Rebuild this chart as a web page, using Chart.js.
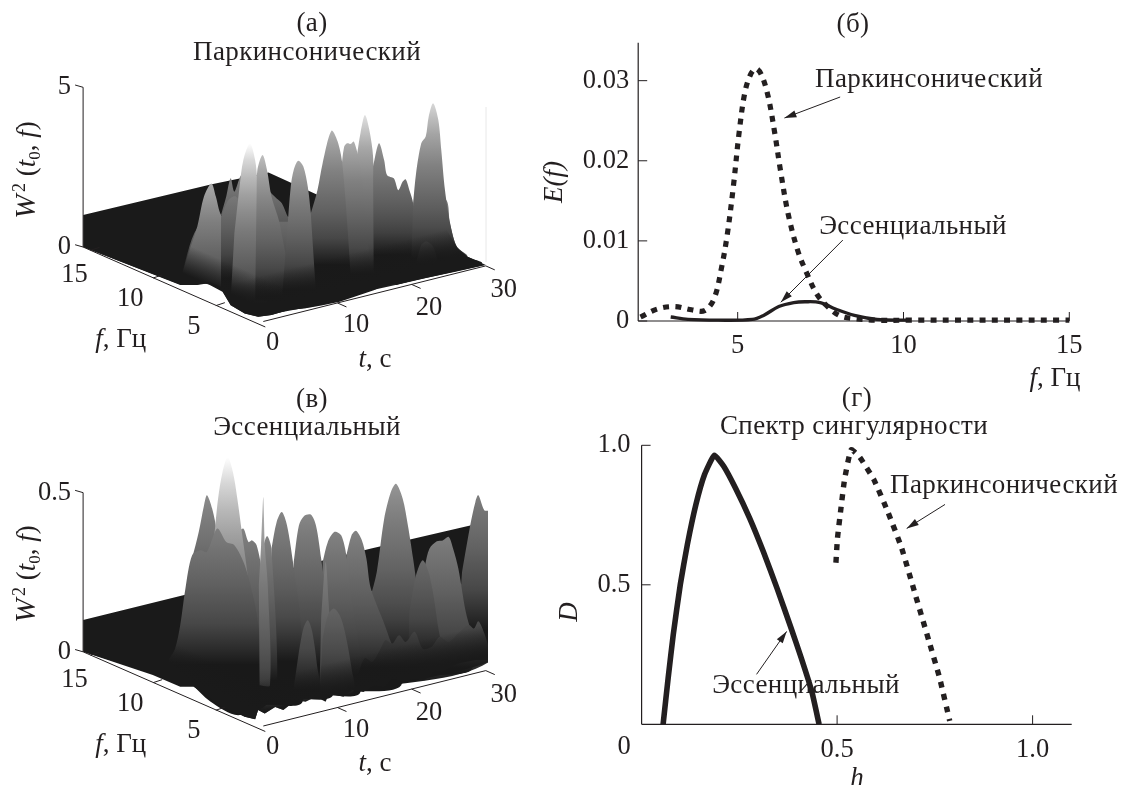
<!DOCTYPE html>
<html><head><meta charset="utf-8">
<script src="https://cdn.jsdelivr.net/npm/chart.js@4/dist/chart.umd.min.js"></script>
<style>html,body{margin:0;background:#fff;width:1123px;height:785px;overflow:hidden}canvas{position:absolute}</style>
</head><body>
<canvas id="c1"></canvas><canvas id="c2"></canvas><canvas id="c3"></canvas><canvas id="c4"></canvas>
<script>
// ---------- panel (б): E(f) ----------
const energyParkF=[2.07,2.58,3.09,3.61,4.0,4.29,4.52,4.69,4.87,5.04,5.21,5.38,5.55,5.72,5.92,6.12,6.29,6.52,6.81,7.09,7.38,7.66,8.06,8.52,9.2,10.12,15];
const energyParkE=[.0005,.0015,.0018,.0014,.0013,.0028,.0068,.0109,.0168,.0234,.0284,.0307,.0315,.0307,.028,.0234,.0188,.0134,.0088,.0059,.0034,.002,.0007,.0003,.0001,.0001,.0001];
const energyEssF=[2.98,3.5,4.41,5.44,5.78,6.24,6.69,7.03,7.49,7.95,8.52,9.2,10.12];
const energyEssE=[.0005,.0002,.0001,.0002,.0007,.0018,.0023,.0024,.0023,.0015,.0007,.0002,.0001];
const energyXTicks=[5,10,15];
const energyYTicks=[0,.01,.02,.03];
const energyYLabels=['0','0.01','0.02','0.03'];
// ---------- panel (г): D(h) ----------
const specEssH=[.055,.068,.081,.099,.117,.139,.161,.186,.21,.24,.276,.311,.346,.382,.408,.435,.454];
const specEssD=[0,.167,.322,.501,.644,.788,.895,.964,.925,.847,.74,.62,.489,.346,.239,.119,0];
const specParkH=[.497,.501,.51,.519,.536,.558,.594,.629,.665,.7,.735,.762,.788];
const specParkD=[.579,.668,.776,.877,.984,.957,.877,.764,.632,.465,.298,.167,.012];
const specXTicks=[.5,1];
const specYTicks=[.5,1];
// ---------- 3-D panels: t, f axes ----------
const tTicks=[0,10,20,30];
const fTicks=[5,10,15];
// ---------- panel (а): outlines in view units (horizontal t-span, vertical W² span) ----------
const backA=[[-24.3,0],[-24.3,1],[-7.1,1.96],[.7,2.33],[7.8,1.58],[14.9,.43],[25.9,-.35],[29.8,-.56],[17.9,-1.17],[17.4,-1.07],[14.9,-1.3],[8,-1.8],[1.1,-2.1],[-.7,-2.15],[-2.5,-2.05],[-4.4,-1.8],[-5.5,-1.38],[-7.6,-1.12],[-8.9,-1.17],[-11.2,-1.17]];
const floorA=[[-24.3,0],[0,.7],[24.3,.7],[26.1,.01],[27.5,-.3],[29.5,-.51],[30,-.56],[25.9,-.77],[21.8,-.98],[17.9,-1.19],[17.4,-1.09],[14.9,-1.35],[10.3,-1.71],[8,-1.82],[5.7,-1.92],[3.4,-1.97],[1.1,-2.13],[-.7,-2.18],[-2.5,-2.08],[-4.4,-1.82],[-5.5,-1.4],[-7.6,-1.14],[-8.9,-1.19],[-11.2,-1.19]];
const ridgesA=[
 [[-11.2,-1.03],[-8.9,.6],[-5.7,.95],[3.4,.95],[6.4,1],[11,1.2],[20,1.2],[24.5,1.5],[25.2,.7],[26.1,0],[27.5,-.3],[24,-.8],[10,-1.5],[-5,-1.25]],
 [[-5.7,1],[-5,1.58],[-4.4,2.15],[-3.9,1.73],[-2.9,2.25],[-1.4,1.47],[-.7,2.2],[.7,1.78],[1.8,1.52],[2.5,1.37],[3.4,.9],[3.9,.8],[-3.4,.8]],
 [[-11.2,-1.03],[-10.1,-.2],[-8.9,.64],[-8,1.58],[-7,1.99],[-6.4,1.58],[-5.7,1],[-3.4,.22],[-.7,-.82],[-.7,-1.66],[-7.1,-1.1]],
 [[-5.7,.95],[-4.7,1.47],[-3.7,1.58],[-2.5,1.05],[-1.4,-.2],[-.7,-1.66],[-5.7,-1.3]],
 [[-3.9,.43],[-3.2,1.89],[-2.7,2.72],[-1.8,3.25],[-1.1,2.72],[-.8,2.1],[0,.43],[.7,-1.66],[-4.4,-1.66]],
 [[-.9,1.68],[-.8,2.41],[-.1,2.88],[.5,2.41],[1.1,1.58],[2.3,.64],[3.4,-1.66],[-1.1,-1.66]],
 [[3.2,.43],[3.7,1.89],[4.1,2.41],[4.7,2.7],[5.4,2.52],[6,1.89],[6.4,1.1],[7.3,-.62],[7.6,-1.66],[2.5,-1.66]],
 [[12.6,2.83],[13.1,3.56],[13.7,4.13],[14.3,3.66],[14.8,2.83],[15.3,-.62],[15.3,-1.24],[12.6,-1.45]],
 [[14.8,2.52],[15.6,3.25],[16.3,2.72],[16.7,2.25],[17.6,2.15],[18.2,1.78],[18.8,2.05],[19.2,2.12],[19.7,1.78],[20.2,1.37],[20.8,-.82],[14.9,-1.3]],
 [[10.5,2.41],[10.9,3.14],[11.3,3.25],[11.8,3.23],[12.2,3.3],[12.8,2.83],[13.3,2.2],[14.4,-.62],[14.4,-1.24],[10.3,-1.45]],
 [[6.4,1.05],[7.3,1.78],[8,2.62],[9.2,3.64],[10.1,3.25],[10.7,2.52],[11.7,-.62],[11.7,-1.45],[7.1,-1.45]],
 [[20.2,1.37],[20.6,2.31],[21.3,3.25],[21.9,3.46],[22.3,4.08],[22.9,4.5],[23.6,3.98],[24,3.04],[24.5,1.78],[25.2,.74],[26.1,.01],[27.5,-.3],[29.5,-.51],[24,-.8],[19.9,-1]],
 [[20.6,-.51],[21.3,.06],[22,.17],[22.9,.01],[23.6,-.51]]
];
const levelsA=[-1.3,-.6,-2.06,-1,-2.15,-1.55,-1.35,-.87,-.25,-.86,-.56,-.36,-.53];
// ---------- panel (в) ----------
const backB=[[-24.3,0],[-24.3,.1],[-10.8,.178],[14.4,.324],[27.9,.397],[30.5,.418],[30.5,0],[5.7,-.146],[-12.6,-.084]];
const floorB=[[-24.3,0],[0,.1],[30.3,.1],[30.3,-.026],[28.6,-.026],[26.3,-.037],[25,-.052],[24,-.063],[23.1,-.058],[21.8,-.089],[20.4,-.084],[19,-.094],[17.4,-.084],[16.3,-.11],[14.9,-.105],[13.5,-.126],[12,-.12],[10.8,-.141],[8.9,-.131],[8.4,-.157],[7.1,-.141],[5.7,-.157],[4.4,-.152],[2.7,-.183],[1.6,-.173],[.2,-.194],[-.7,-.183],[-1.1,-.212],[-2.5,-.204],[-4.4,-.183],[-6.2,-.162],[-8,-.131],[-9.4,-.11],[-11.2,-.11],[-14.9,-.073]];
const ridgesB=[
 [[-10,.15],[-3,.15],[8,.15],[14.4,.19],[22,.2],[30.5,.2],[30.5,-.03],[12,-.12],[-3,-.17],[-9.6,-.09]],
 [[14.4,.167],[15.3,.251],[16.3,.418],[17.2,.502],[17.9,.528],[18.8,.481],[19.5,.397],[20.2,.293],[21.3,.105],[22.2,-.063],[14.4,-.084]],
 [[26.8,.251],[27.9,.397],[28.6,.471],[29,.492],[29.8,.445],[30.5,.44],[30.5,0],[25.9,-.042]],
 [[20.6,.167],[21.8,.272],[22.4,.324],[23.4,.347],[24.2,.35],[25,.361],[25.6,.324],[26.3,.262],[27.3,.126],[28.6,0],[27.7,-.063],[20.4,-.073]],
 [[19.7,.126],[20.6,.241],[21.5,.288],[22.4,.241],[23.4,.105],[24,-.063],[19.5,-.084]],
 [[11.2,.303],[11.9,.366],[12.5,.38],[13.3,.35],[13.9,.293],[14.5,.199],[16.7,.063],[18.6,-.105],[11.2,-.126]],
 [[8,.282],[8.7,.345],[9.6,.377],[10.5,.366],[11.2,.303],[11.9,.167],[13.1,-.126],[8,-.136]],
 [[4.1,.282],[4.8,.397],[5.5,.427],[6.4,.431],[7.1,.397],[7.8,.293],[8.7,.126],[9.4,-.136],[3.9,-.146]],
 [[1.1,.324],[1.8,.408],[2.5,.439],[3.2,.397],[4,.282],[5,.105],[5.3,-.157],[.7,-.167]],
 [[-.2,.314],[.5,.364],[1.1,.324],[1.8,-.146],[-.2,-.157]],
 [[-3.4,.377],[-2.7,.387],[-2,.345],[-1.5,.35],[-.9,.335],[-.2,.251],[.7,-.105],[-3.4,-.105]],
 [[-9.6,.293],[-8.7,.377],[-8,.46],[-7.6,.492],[-6.9,.45],[-6.2,.366],[-5.3,.105],[-5.3,-.105],[-9.6,-.052]],
 [[-6.6,.366],[-6.1,.481],[-5.5,.565],[-4.8,.612],[-4.1,.565],[-3.5,.481],[-2.9,.377],[-2,.209],[-1.6,-.105],[-6.2,-.105]],
 [[-12.8,-.026],[-11.9,.01],[-11.2,.084],[-10.5,.199],[-9.6,.303],[-8.5,.319],[-7.6,.314],[-6.2,.387],[-5,.345],[-3.9,.335],[-2.5,.272],[-1.1,.146],[-.2,0],[.7,-.157],[-3.4,-.199],[-7.1,-.157],[-9.8,-.099]],
 [[-.6,.209],[-.3,.335],[0,.486],[.2,.335],[.6,.209],[.9,-.105],[-.5,-.105]],
 [[7.8,.105],[8.4,.282],[8.8,.157],[9.4,-.105],[7.6,-.105]],
 [[4.8,0],[5.4,.073],[6,.099],[6.6,.063],[7.3,-.052],[7.6,-.136],[3.9,-.146]],
 [[8,.042],[8.7,.115],[9.5,.136],[10.3,.115],[11,.063],[11.9,-.052],[12.1,-.126],[7.6,-.136]],
 [[12.6,-.084],[13.7,-.019],[14.7,-.031],[15.6,0],[16.5,.037],[17.4,.026],[18.3,.052],[19.2,.031],[20.4,.063],[21.5,.01],[22.7,.016],[23.8,.047],[25,.031],[26.3,.058],[27.7,.084],[28.4,.073],[29,.096],[29.8,.058],[30.5,0],[30.5,-.031],[21.8,-.084],[12.6,-.126]]
];
const levelsB=[-.1,-.005,.066,-.065,-.02,-.07,-.073,-.04,-.03,-.09,-.063,0,-.208,-.04,-.19,-.17,-.12,-.14,-.05];

// ---------- helpers ----------
const INK='#231f20', SERIF='"Liberation Serif"', FS=27, TS=26.5, TRACK='.4px';
const GRAY_H=[0,.15,.3,.55,.75,.9,1], GRAY_V=[25,70,95,130,170,215,255];
Chart.defaults.font.family=SERIF; Chart.defaults.color=INK; Chart.defaults.animation=false;
function place(id,p){const c=document.getElementById(id);c.style.left=p.x+'px';c.style.top=p.y+'px';c.style.width=p.w+'px';c.style.height=p.h+'px';c.width=p.w;c.height=p.h;return c;}
function text(c,p,s,x,y,o={}){c.save();c.font=`${o.size||FS}px ${SERIF}`;c.letterSpacing=o.track||'0px';c.fillStyle=INK;c.textAlign='center';c.textBaseline='middle';c.translate(x-p.x,y-p.y);c.fillText(s,0,0);c.restore();}
const label=(c,p,s,x,y)=>text(c,p,s,x,y,{track:TRACK});
const num=(c,p,s,x,y)=>text(c,p,s,x,y,{size:TS});
function rich(c,p,spans,x,y,rot){c.save();c.fillStyle=INK;c.textBaseline='alphabetic';c.translate(x-p.x,y-p.y);if(rot)c.rotate(rot);
 const fonts=spans.map(s=>`${s[1]==='i'?'italic ':''}${s[2]||FS}px ${SERIF}`);let w=0;spans.forEach((s,i)=>{c.font=fonts[i];w+=c.measureText(s[0]).width;});
 let cx=-w/2;spans.forEach((s,i)=>{c.font=fonts[i];c.fillText(s[0],cx,9+(s[3]||0));cx+=c.measureText(s[0]).width;});c.restore();}
function seg(c,x1,y1,x2,y2,lw=1){c.save();c.strokeStyle=INK;c.lineWidth=lw;c.beginPath();c.moveTo(x1,y1);c.lineTo(x2,y2);c.stroke();c.restore();}
function arrow(ch,a,b,d,e){const x=ch.scales.x,y=ch.scales.y,c=ch.ctx;const x1=x.getPixelForValue(a),y1=y.getPixelForValue(b),x2=x.getPixelForValue(d),y2=y.getPixelForValue(e);
 seg(c,x1,y1,x2,y2);const t=Math.atan2(y2-y1,x2-x1),L=12,W=3.6;c.save();c.fillStyle=INK;c.translate(x2,y2);c.rotate(t);c.beginPath();c.moveTo(0,0);c.lineTo(-L,W);c.lineTo(-L,-W);c.closePath();c.fill();c.restore();}
function scale(min,max,list,labels,padd,fit){return{type:'linear',min,max,afterBuildTicks:s=>{s.ticks=list.map(v=>({value:v}));},afterFit:fit,
 grid:{display:false,drawTicks:false},border:{display:false},ticks:{callback:(v,i)=>labels?labels[i]:String(v),padding:padd,font:{size:TS,family:SERIF},color:INK,maxRotation:0,autoSkip:false}};}
const xy=(xs,ys)=>xs.map((x,i)=>({x,y:ys[i]}));
const pts=a=>a.map(q=>({x:q[0],y:q[1]}));
const base={responsive:false,animation:false,events:[],plugins:{legend:{display:false},tooltip:{enabled:false},title:{display:false}}};

// ---------- surface panels ----------
function grayAt(h){h=Math.min(1,Math.max(0,h));for(let i=1;i<GRAY_H.length;i++){if(h<=GRAY_H[i]){const s=(h-GRAY_H[i-1])/(GRAY_H[i]-GRAY_H[i-1]);return Math.round(GRAY_V[i-1]+s*(GRAY_V[i]-GRAY_V[i-1]));}}return 255;}
function ridgeFill(top,level,hmax){return ctx=>{const ch=ctx.chart;if(!ch.chartArea)return '#333';const y=ch.scales.y;
  const g=ch.ctx.createLinearGradient(0,y.getPixelForValue(level),0,y.getPixelForValue(top));
  for(let i=0;i<=10;i++){const s=i/10,v=grayAt((top-level)*s/hmax);g.addColorStop(s,`rgb(${v},${v},${v})`);}return g;};}
function floorFill(k,nx,ny,d1,d2){return ctx=>{const ch=ctx.chart;if(!ch.chartArea)return '#1a1a1a';const cx=ch.scales.x.getPixelForValue(0),cy=ch.scales.y.getPixelForValue(-2.33*k);
  const g=ch.ctx.createLinearGradient(cx-nx*d1,cy-ny*d1,cx-nx*d2,cy-ny*d2);g.addColorStop(0,'rgba(26,26,26,0)');g.addColorStop(1,'rgba(26,26,26,1)');return g;};}
const F_OFF=[[-22,21],[-23,21],[-16,24.5]], T_OFF=[[9.4,21.4],[18.5,22.5],[17.5,23.5],[18,24]];
function surface(id,p,rect,yMin,yMax,back,floor,ridges,levels,hmax,zTicks,zLabels,k,texts){
 const ds=[{data:pts(back),backgroundColor:'#1a1a1a',fill:'shape',borderWidth:0,borderColor:'transparent',pointRadius:0,tension:0}];
 ridges.forEach((r,i)=>{const top=Math.max(...r.map(q=>q[1]));ds.push({data:pts(r),backgroundColor:ridgeFill(top,levels[i],hmax),fill:'shape',borderWidth:0,borderColor:'transparent',pointRadius:0,tension:.3});});
 ds.push({data:pts(floor),backgroundColor:floorFill(k,.242,.97,45,14),fill:'shape',borderWidth:0,borderColor:'transparent',pointRadius:0,tension:0});
 ds.push({data:pts(floor),backgroundColor:floorFill(k,-.4,.916,40,12),fill:'shape',borderWidth:0,borderColor:'transparent',pointRadius:0,tension:0});
 ds.reverse();
 const decor={id:'decor',afterDraw(ch){const c=ch.ctx,X=ch.scales.x,Y=ch.scales.y,px=u=>X.getPixelForValue(u),py=z=>Y.getPixelForValue(z);
   const x0=px(-24.3);seg(c,x0,py(0),x0,py(zTicks[1]));
   zTicks.forEach(z=>seg(c,x0-8,py(z)-2.3,x0,py(z)));
   const fP=f=>{const u=2.05-1.69*f;return[px(u),py(-k*(u+24.3)*.1025)];},tP=t=>[px(t),py(k*(-2.33+.058*t))];
   const end=[px(0)+2,py(k*-2.33)+5.5];seg(c,x0,py(0),...end);seg(c,...tP(0),...tP(30));
   fTicks.forEach((f,i)=>{const[a,b]=fP(f);seg(c,a,b,a+9,b-3);num(c,p,String(f),a+p.x+F_OFF[i][0],b+p.y+F_OFF[i][1]);});
   tTicks.forEach((t,i)=>{const[a,b]=tP(t);if(t)seg(c,a,b,a+9,b+4);num(c,p,String(t),a+p.x+T_OFF[i][0],b+p.y+T_OFF[i][1]);});
   texts(c);}};
 return new Chart(place(id,p),{type:'line',data:{datasets:ds},plugins:[decor],options:{...base,layout:{padding:{left:0,right:p.x+p.w-rect.r,top:rect.t-p.y,bottom:p.y+p.h-rect.b}},
  scales:{x:{type:'linear',display:false,min:-24.3,max:30.3},y:scale(yMin,yMax,zTicks,zLabels,12,s=>{s.width=rect.l-p.x;})}}});
}
const wLabel=[['W','i',29],[' ','',10],['2','',18,-10],[' (',''],['t','i'],['0','',17,5],[', ',''],['f','i'],[')','']];
const Pa={x:0,y:0,w:540,h:385},Pb={x:0,y:385,w:540,h:400},Pc={x:540,y:0,w:583,h:392},Pd={x:540,y:385,w:583,h:400};
surface('c1',Pa,{l:83.1,r:488,t:87.3,b:326.9},-2.5,5,backA,floorA,ridgesA,levelsA,5.4,[0,5],['0','5'],1,c=>{
 c.save();c.strokeStyle='#e8e8e8';c.beginPath();c.moveTo(486,107);c.lineTo(486,262);c.stroke();c.restore();
 label(c,Pa,'(а)',312,24);label(c,Pa,'Паркинсонический',307,53);
 rich(c,Pa,wLabel,26,170,-Math.PI/2);
 rich(c,Pa,[['f','i'],[', Гц','']],120.7,338.3);rich(c,Pa,[['t','i'],[', с','']],375,358.3);
});
surface('c2',Pb,{l:83.1,r:488,t:451.9,b:731.4},-.25,.628,backB,floorB,ridgesB,levelsB,.82,[0,.5],['0','0.5'],.1,c=>{
 label(c,Pb,'(в)',312,400);label(c,Pb,'Эссенциальный',307,428);
 rich(c,Pb,wLabel,26,574,-Math.PI/2);
 rich(c,Pb,[['f','i'],[', Гц','']],120.7,743);rich(c,Pb,[['t','i'],[', с','']],375,762);
});

// ---------- line panels ----------
function inner(ch,xt,yt){const c=ch.ctx,X=ch.scales.x,Y=ch.scales.y,a=ch.chartArea;
 xt.forEach(v=>seg(c,X.getPixelForValue(v),a.bottom,X.getPixelForValue(v),a.bottom-9));
 yt.forEach(v=>seg(c,a.left,Y.getPixelForValue(v),a.left+9,Y.getPixelForValue(v)));
 seg(c,a.left,a.top,a.left,a.bottom,1.2);seg(c,a.left,a.bottom,a.right,a.bottom,1.2);}
const RC={l:638.2,r:1069.3,t:42.7,b:321},RD={l:641.6,r:1071.7,t:445.3,b:724.3};
new Chart(place('c3',Pc),{type:'line',data:{datasets:[
 {data:xy(energyParkF,energyParkE),borderColor:'#231f20',borderWidth:5.2,borderDash:[6,6.3],pointRadius:0,tension:.35,clip:false},
 {data:xy(energyEssF,energyEssE),borderColor:'#231f20',borderWidth:3.3,pointRadius:0,tension:.35,clip:false}]},
 plugins:[{id:'d',afterDraw(ch){const c=ch.ctx;inner(ch,energyXTicks,energyYTicks);
  label(c,Pc,'(б)',853,25);label(c,Pc,'Паркинсонический',929,80);label(c,Pc,'Эссенциальный',913,227);
  rich(c,Pc,[['E(f)','i']],553,182,-Math.PI/2);rich(c,Pc,[['f','i'],[', Гц','']],1055,377);
  arrow(ch,8.09,.02796,6.41,.02534);arrow(ch,8.17,.0101,6.3,.00234);}}],
 options:{...base,layout:{padding:{left:0,bottom:0,top:RC.t-Pc.y,right:Pc.x+Pc.w-RC.r}},
 scales:{x:scale(2,15,energyXTicks,null,9,s=>{s.height=Pc.y+Pc.h-RC.b;}),y:scale(0,.03474,energyYTicks,energyYLabels,9,s=>{s.width=RC.l-Pc.x;})}}});
new Chart(place('c4',Pd),{type:'line',data:{datasets:[
 {data:xy(specParkH,specParkD),borderColor:'#231f20',borderWidth:5.4,borderDash:[6,6.6],pointRadius:0,tension:.15},
 {data:xy(specEssH,specEssD),borderColor:'#231f20',borderWidth:5.6,pointRadius:0,tension:.15}]},
 plugins:[{id:'d',beforeDatasetsDraw(ch){const c=ch.ctx;label(c,Pd,'Эссенциальный',806,686);},afterDraw(ch){const c=ch.ctx;inner(ch,specXTicks,specYTicks);
  label(c,Pd,'(г)',857,399);label(c,Pd,'Спектр сингулярности',854,427);label(c,Pd,'Паркинсонический',1004,486);
  num(c,Pd,'0',624,747);rich(c,Pd,[['D','i']],568,612,-Math.PI/2);rich(c,Pd,[['h','i']],857,777);
  arrow(ch,.776,.788,.678,.702);arrow(ch,.294,.179,.371,.333);}}],
 options:{...base,layout:{padding:{left:0,bottom:0,top:RD.t-Pd.y,right:Pd.x+Pd.w-RD.r}},
 scales:{x:scale(0,1.1,specXTicks,['0.5','1.0'],10,s=>{s.height=Pd.y+Pd.h-RD.b;}),y:scale(0,1,specYTicks,['0.5','1.0'],11,s=>{s.width=RD.l-Pd.x;})}}});
</script>
</body></html>
